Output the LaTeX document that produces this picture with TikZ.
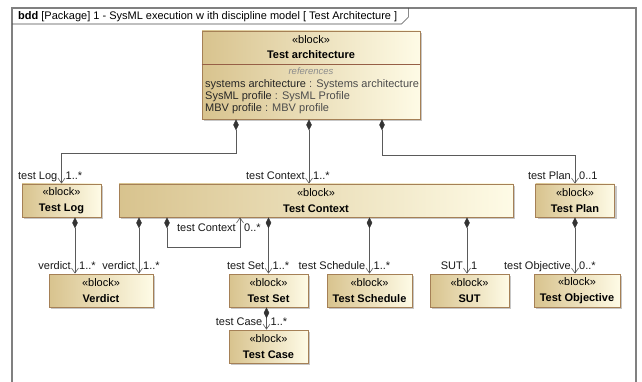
\documentclass[tikz,border=0pt]{standalone}
\usepackage{fontspec}
\setmainfont{Liberation Sans}
\usetikzlibrary{arrows.meta,shadows}
\definecolor{bdark}{RGB}{216,195,142}
\definecolor{blight}{RGB}{254,251,230}
\definecolor{bborder}{RGB}{165,128,86}
\definecolor{conn}{RGB}{90,90,90}
\definecolor{framec}{RGB}{128,128,128}
\definecolor{divc}{RGB}{150,95,70}
\begin{document}
\begin{tikzpicture}[x=1pt,y=-1pt,
  blk/.style={draw=bborder, line width=0.8pt, left color=bdark, right color=blight,
    minimum height=33pt, inner sep=0pt, align=center,
    font=\fontsize{11}{16}\selectfont,
    drop shadow={shadow xshift=2pt,shadow yshift=-2pt,fill=black!22,opacity=1}},
  comp/.style={draw=conn, line width=0.6pt,
    {Diamond[length=11pt,width=5.5pt,color=black!80]}-{Straight Barb[length=5pt,width=7pt]}},
  lbl/.style={font=\fontsize{11}{13}\selectfont, inner sep=0pt, text=black!90},
  role/.style={lbl, anchor=base east},
  mult/.style={lbl, anchor=base west},
  txt/.style={font=\fontsize{11}{13}\selectfont, inner sep=0pt},
]
\useasboundingbox (0,0) rectangle (642,382);
\fill[white] (0,0) rectangle (642,382);
% frame
\draw[framec, line width=1.3pt] (12,400) -- (12,8) -- (636,8) -- (636,400);
\node[txt, anchor=base west] (title) at (18,20)
  {\textbf{bdd} [Package] 1 - SysML execution w ith discipline model [ Test Architecture ]};
\draw[black!70, line width=0.6pt] (12,24) -- ([xshift=4pt]title.east |- 0,24) -- ++(7,-7) -- ++(0,-9);

% top block
\node[blk, minimum width=218pt, minimum height=88pt] (arch) at (311,75) {};
\node[txt, anchor=base] (archst) at (311,44) {«block»};
\node[txt, anchor=base, font=\fontsize{11}{13}\selectfont\bfseries] (archname) at (311,59) {Test architecture};
\draw[divc, line width=0.6pt] (arch.west |- 0,64) -- (arch.east |- 0,64);
\node[txt, anchor=base, font=\fontsize{9.5}{11}\selectfont\itshape, text=black!45] (refs) at (311,75) {references};
\node[txt, anchor=base west] (p1) at (205,88) {\color{black!85}systems architecture \color{black!70}: Systems architecture};
\node[txt, anchor=base west] (p2) at (205,100) {\color{black!85}SysML profile \color{black!70}: SysML Profile};
\node[txt, anchor=base west] (p3) at (205,112) {\color{black!85}MBV profile \color{black!70}: MBV profile};

% second row
\node[blk, minimum width=79pt] (log) at (61.5,200.5) {«block»\\\textbf{Test Log}};
\node[blk, minimum width=394pt] (ctx) at (316,200.5) {«block»\\\textbf{Test Context}};
\node[blk, minimum width=79pt] (plan) at (575,200.5) {«block»\\\textbf{Test Plan}};

% third row
\node[blk, minimum width=104pt] (verdict) at (101,290.5) {«block»\\\textbf{Verdict}};
\node[blk, minimum width=79pt] (set) at (268.5,290.5) {«block»\\\textbf{Test Set}};
\node[blk, minimum width=85pt] (sched) at (369.5,290.5) {«block»\\\textbf{Test Schedule}};
\node[blk, minimum width=79pt] (sut) at (469.5,290.5) {«block»\\\textbf{SUT}};
\node[blk, minimum width=86pt] (obj) at (577,290.5) {«block»\\\textbf{Test Objective}};
\node[blk, minimum width=79pt] (case) at (268.5,346.5) {«block»\\\textbf{Test Case}};

% connectors from Test architecture
\draw[comp] ([xshift=-75pt]arch.south) -- ++(0,34) -| (log.north);
\node[role] (rLog) at ([xshift=-4pt,yshift=4pt]log.north) {test Log};
\node[mult] (mLog) at ([xshift=4pt,yshift=4pt]log.north) {1..*};

\coordinate (ectx) at ([xshift=-2pt]arch.south |- ctx.north);
\draw[comp] ([xshift=-2pt]arch.south) -- (ectx);
\node[role] (rCtx) at ([xshift=-4pt,yshift=4pt]ectx) {test Context};
\node[mult] (mCtx) at ([xshift=4pt,yshift=4pt]ectx) {1..*};

\draw[comp] ([xshift=71pt]arch.south) -- ++(0,36) -| (plan.north);
\node[role] (rPlan) at ([xshift=-4pt,yshift=4pt]plan.north) {test Plan};
\node[mult] (mPlan) at ([xshift=4pt,yshift=4pt]plan.north) {0..1};

% verdict
\coordinate (v1) at ([xshift=-26pt]verdict.north);
\coordinate (v2) at ([xshift=38pt]verdict.north);
\draw[comp] (log.south -| v1) -- (v1);
\draw[comp] (ctx.south -| v2) -- (v2);
\node[role] (rV1) at ([xshift=-4pt,yshift=4pt]v1) {verdict};
\node[mult] (mV1) at ([xshift=4pt,yshift=4pt]v1) {1..*};
\node[role] (rV2) at ([xshift=-4pt,yshift=4pt]v2) {verdict};
\node[mult] (mV2) at ([xshift=4pt,yshift=4pt]v2) {1..*};

% self loop
\coordinate (sl) at ([xshift=-76pt]ctx.south);
\draw[comp] ([xshift=-149pt]ctx.south) -- ++(0,30) -| (sl);
\node[role] (rSl) at ([xshift=-4pt,yshift=-14pt]sl) {test Context};
\node[mult] (mSl) at ([xshift=4pt,yshift=-14pt]sl) {0..*};

% other children
\draw[comp] (ctx.south -| set.north) -- (set.north);
\node[role] (rSet) at ([xshift=-4pt,yshift=4pt]set.north) {test Set};
\node[mult] (mSet) at ([xshift=4pt,yshift=4pt]set.north) {1..*};

\draw[comp] (ctx.south -| sched.north) -- (sched.north);
\node[role] (rSch) at ([xshift=-4pt,yshift=4pt]sched.north) {test Schedule};
\node[mult] (mSch) at ([xshift=4pt,yshift=4pt]sched.north) {1..*};

\coordinate (esut) at ([xshift=-2.5pt]sut.north);
\draw[comp] (ctx.south -| esut) -- (esut);
\node[role] (rSut) at ([xshift=-4pt,yshift=4pt]esut) {SUT};
\node[mult] (mSut) at ([xshift=4pt,yshift=4pt]esut) {1};

\coordinate (eobj) at (plan.south |- obj.north);
\draw[comp] (plan.south) -- (eobj);
\node[role] (rObj) at ([xshift=-4pt,yshift=4pt]eobj) {test Objective};
\node[mult] (mObj) at ([xshift=4pt,yshift=4pt]eobj) {0..*};

\coordinate (ecase) at ([xshift=-2pt]case.north);
\draw[comp] (set.south -| ecase) -- (ecase);
\node[role] (rCase) at ([xshift=-4pt,yshift=4pt]ecase) {test Case};
\node[mult] (mCase) at ([xshift=4pt,yshift=4pt]ecase) {1..*};
\end{tikzpicture}
\end{document}
